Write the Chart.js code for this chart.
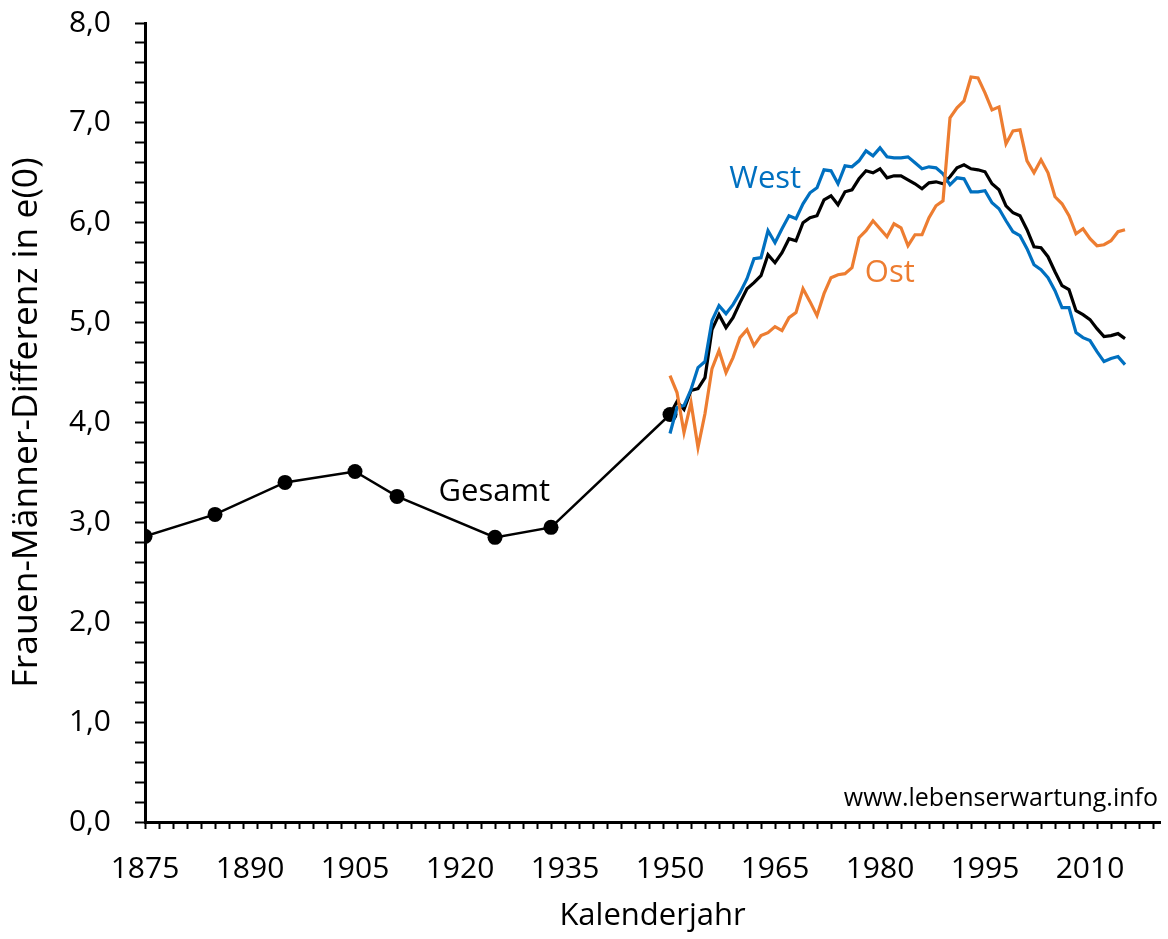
<!DOCTYPE html>
<html lang="de">
<head>
<meta charset="utf-8">
<title>Frauen-Männer-Differenz in e(0)</title>
<script src="https://cdn.jsdelivr.net/npm/chart.js@4"></script>
<style>
  html, body { margin: 0; padding: 0; background: #fff; }
  #wrap { width: 1168px; height: 939px; position: relative; }
</style>
</head>
<body>
<div id="wrap"><canvas id="myChart"></canvas></div>
<script>
// historische Sterbetafeln (Gesamt)
const gesamtJahre = [1875, 1885, 1895, 1905, 1911, 1925, 1933, 1950];
const gesamtWerte = [2.86, 3.08, 3.40, 3.51, 3.26, 2.85, 2.95, 4.08];

// jährliche Werte 1950-2015
const jahre = Array.from({ length: 66 }, (_, i) => 1950 + i);
const gesamtJaehrlich = [
  4.08, 4.21, 4.13, 4.32, 4.34, 4.45, 4.93, 5.08, 4.95, 5.05,
  5.20, 5.34, 5.40, 5.47, 5.68, 5.60, 5.70, 5.84, 5.82, 6.00,
  6.05, 6.07, 6.23, 6.27, 6.18, 6.31, 6.33, 6.44, 6.52, 6.50,
  6.54, 6.45, 6.47, 6.47, 6.43, 6.39, 6.34, 6.40, 6.41, 6.39,
  6.46, 6.55, 6.58, 6.54, 6.53, 6.51, 6.39, 6.33, 6.17, 6.10,
  6.07, 5.93, 5.76, 5.75, 5.66, 5.51, 5.37, 5.33, 5.12, 5.08,
  5.03, 4.94, 4.86, 4.87, 4.89, 4.84
];
const westWerte = [
  3.89, 4.15, 4.17, 4.33, 4.55, 4.61, 5.02, 5.17, 5.09, 5.18,
  5.30, 5.44, 5.64, 5.65, 5.92, 5.80, 5.94, 6.07, 6.04, 6.19,
  6.30, 6.35, 6.53, 6.52, 6.39, 6.57, 6.56, 6.62, 6.72, 6.67,
  6.75, 6.66, 6.65, 6.65, 6.66, 6.60, 6.54, 6.56, 6.55, 6.49,
  6.38, 6.45, 6.44, 6.31, 6.31, 6.32, 6.20, 6.14, 6.02, 5.91,
  5.87, 5.74, 5.58, 5.53, 5.45, 5.32, 5.15, 5.15, 4.90, 4.85,
  4.82, 4.71, 4.61, 4.64, 4.66, 4.58
];
const ostWerte = [
  4.47, 4.30, 3.90, 4.20, 3.75, 4.09, 4.54, 4.72, 4.50, 4.65,
  4.85, 4.93, 4.77, 4.87, 4.90, 4.96, 4.92, 5.05, 5.10, 5.34,
  5.21, 5.07, 5.29, 5.45, 5.48, 5.49, 5.55, 5.85, 5.92, 6.02,
  5.94, 5.86, 5.99, 5.95, 5.77, 5.88, 5.88, 6.05, 6.17, 6.22,
  7.05, 7.15, 7.22, 7.46, 7.45, 7.30, 7.13, 7.16, 6.79, 6.92,
  6.93, 6.62, 6.50, 6.63, 6.50, 6.26, 6.19, 6.07, 5.89, 5.94,
  5.84, 5.77, 5.78, 5.82, 5.91, 5.93
];

// Achsenbeschriftungen
const xTickLabels = [1875, 1890, 1905, 1920, 1935, 1950, 1965, 1980, 1995, 2010];
const yTickLabels = ['0,0', '1,0', '2,0', '3,0', '4,0', '5,0', '6,0', '7,0', '8,0'];

const FONT = "'Open Sans', 'Liberation Sans', sans-serif";
const BLAU = '#0070C0';
const ORANGE = '#ED7D31';

const punkte = (xs, ys) => xs.map((x, i) => ({ x: x, y: ys[i] }));

// Achsen-Innenabstand zurücksetzen, damit die Zeichenfläche fest liegt
const keinPadding = (s) => {
  s.paddingTop = 0; s.paddingBottom = 0; s.paddingLeft = 0; s.paddingRight = 0;
};

// Beschriftungen im Diagramm
const beschriftungen = {
  id: 'beschriftungen',
  afterDatasetsDraw(chart) {
    const { ctx, scales: { x, y }, chartArea } = chart;
    ctx.save();
    ctx.textBaseline = 'middle';
    ctx.textAlign = 'center';
    ctx.font = '31px ' + FONT;
    ctx.fillStyle = BLAU;
    ctx.fillText('West', x.getPixelForValue(1963.6), y.getPixelForValue(6.44));
    ctx.fillStyle = ORANGE;
    ctx.fillText('Ost', x.getPixelForValue(1981.4), y.getPixelForValue(5.50));
    ctx.fillStyle = '#000';
    ctx.fillText('Gesamt', x.getPixelForValue(1924.9), y.getPixelForValue(3.30));
    ctx.font = '25px ' + FONT;
    ctx.textAlign = 'right';
    ctx.fillText('www.lebenserwartung.info', chartArea.right - 2, chartArea.bottom - 23);
    ctx.restore();
  }
};

const ctx = document.getElementById('myChart').getContext('2d');

const config = {
  type: 'line',
  data: {
    datasets: [
      {
        label: 'Ost',
        data: punkte(jahre, ostWerte),
        borderColor: ORANGE,
        borderWidth: 3.2,
        pointRadius: 0,
        order: 1
      },
      {
        label: 'West',
        data: punkte(jahre, westWerte),
        borderColor: BLAU,
        borderWidth: 3.2,
        pointRadius: 0,
        order: 2
      },
      {
        label: 'Gesamt (jährlich)',
        data: punkte(jahre, gesamtJaehrlich),
        borderColor: '#000',
        borderWidth: 3.2,
        pointRadius: 0,
        order: 3
      },
      {
        label: 'Gesamt',
        data: punkte(gesamtJahre, gesamtWerte),
        borderColor: '#000',
        backgroundColor: '#000',
        borderWidth: 2.5,
        pointRadius: 7.5,
        pointBorderWidth: 0,
        order: 4
      }
    ]
  },
  options: {
    responsive: true,
    maintainAspectRatio: false,
    animation: false,
    layout: { padding: { top: 23, right: 8, left: 0, bottom: 0 } },
    plugins: {
      legend: { display: false },
      tooltip: { enabled: false }
    },
    scales: {
      x: {
        type: 'linear',
        min: 1875,
        max: 2020,
        afterBuildTicks: (s) => {
          const t = [];
          for (let v = 1875; v <= 2020; v++) t.push({ value: v });
          s.ticks = t;
        },
        afterFit: (s) => { s.height = 117; keinPadding(s); },
        ticks: {
          autoSkip: false,
          maxRotation: 0,
          minRotation: 0,
          padding: 22,
          color: '#000',
          font: { family: FONT, size: 30 },
          callback: (v) => xTickLabels.includes(v) ? String(v) : ''
        },
        grid: {
          drawOnChartArea: false,
          tickLength: 7,
          tickWidth: 2,
          tickColor: (c) => (c.tick && (c.tick.value - 1875) % 2 === 0) ? '#000' : 'rgba(0,0,0,0)'
        },
        border: { color: '#000', width: 3 },
        title: {
          display: true,
          text: 'Kalenderjahr',
          color: '#000',
          font: { family: FONT, size: 31 },
          padding: { top: 0, bottom: 4 }
        }
      },
      y: {
        min: 0,
        max: 8,
        afterBuildTicks: (s) => {
          const t = [];
          for (let i = 0; i <= 40; i++) t.push({ value: i / 5 });
          s.ticks = t;
        },
        afterFit: (s) => { s.width = 145; keinPadding(s); },
        ticks: {
          autoSkip: false,
          padding: 24,
          color: '#000',
          font: { family: FONT, size: 30 },
          callback: (v) => {
            const r = Math.round(v);
            return Math.abs(v - r) < 1e-6 ? yTickLabels[r] : '';
          }
        },
        grid: {
          drawOnChartArea: false,
          tickLength: 10,
          tickWidth: 2,
          tickColor: '#000'
        },
        border: { color: '#000', width: 3 },
        title: {
          display: true,
          text: 'Frauen-Männer-Differenz in e(0)',
          color: '#000',
          font: { family: FONT, size: 35.5 },
          padding: { top: 6, bottom: 0 }
        }
      }
    }
  },
  plugins: [beschriftungen]
};

const myChart = new Chart(ctx, config);
</script>
</body>
</html>
